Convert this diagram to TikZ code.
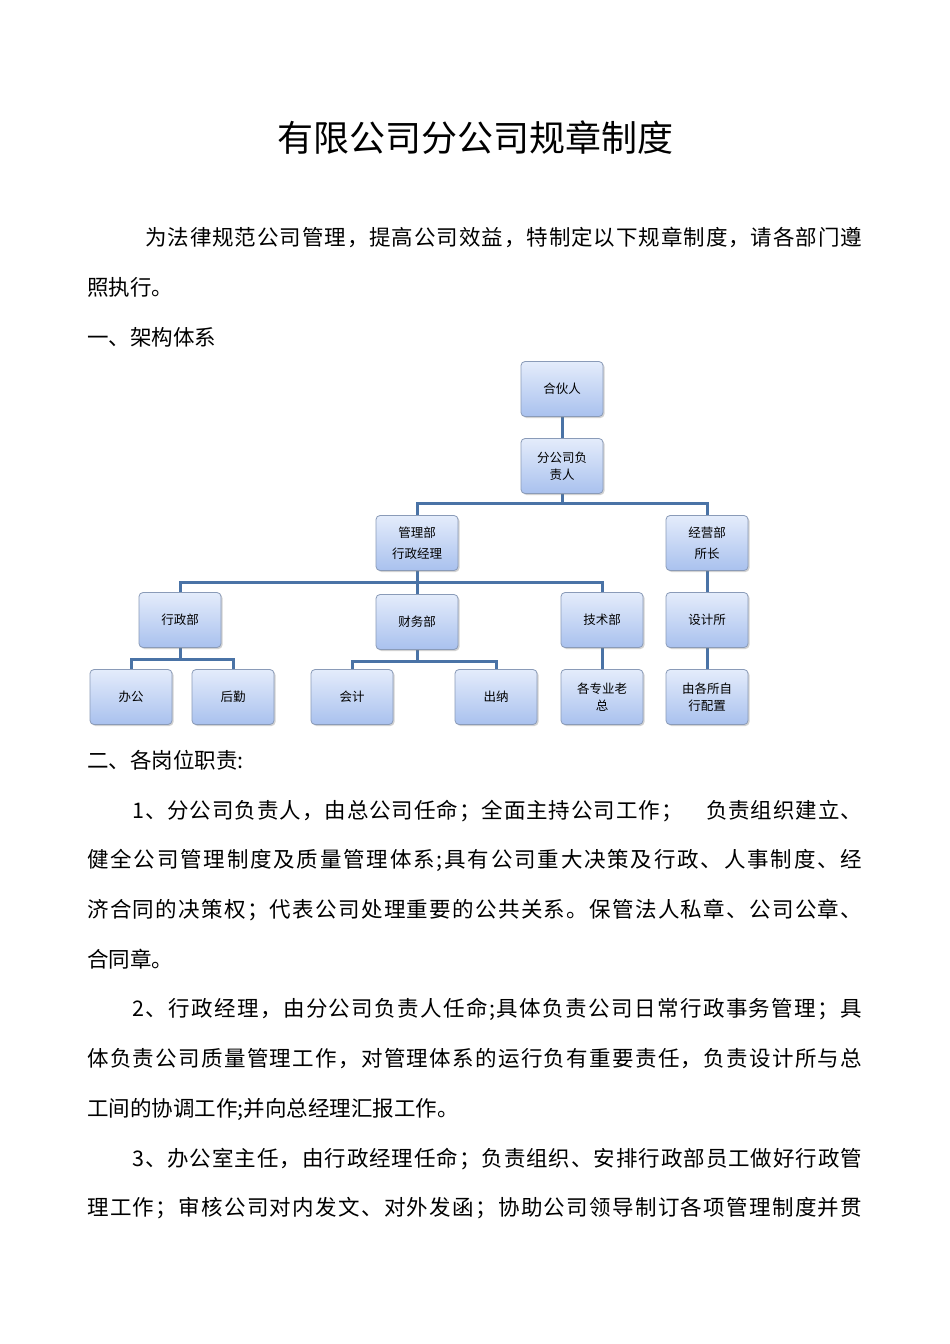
\documentclass[tikz,border=0pt]{standalone}
\usepackage{fontspec}
\setmainfont{Noto Sans CJK SC}
\usetikzlibrary{shadows,backgrounds}
\definecolor{lnc}{HTML}{4A73A6}
\definecolor{bt}{HTML}{E4ECFB}
\definecolor{bb}{HTML}{A9C1EE}
\definecolor{bd}{HTML}{8A9BB8}
\tikzset{
 box/.style={draw=bd,line width=0.8pt,rounded corners=4pt,top color=bt,bottom color=bb,minimum width=82pt,minimum height=55pt,align=center,font=\fontsize{12.5}{17}\selectfont,drop shadow={opacity=0.35,shadow xshift=1.5pt,shadow yshift=-1.5pt},inner sep=2pt},
 conn/.style={lnc,line width=3pt},
 txt/.style={anchor=base west,inner sep=0pt,font=\fontsize{21.5}{21.5}\selectfont},
}
\def\myspr#1{#1\mysprx}
\def\mysprx#1{\ifx#1\relax\else\hskip0pt plus 1fil #1\expandafter\mysprx\fi}
\newcommand{\jl}[2][775pt]{\makebox[#1][s]{\myspr#2\relax}}
\begin{document}
\begin{tikzpicture}[x=1pt,y=-1pt]
\useasboundingbox (0,0) rectangle (950,1344);
\node[inner sep=0pt,font=\fontsize{36}{36}\selectfont] (title) at (475,138) {有限公司分公司规章制度};
\node[txt] (p0a) at (145,245) {\jl[717pt]{为法律规范公司管理，提高公司效益，特制定以下规章制度，请各部门遵}};
\node[txt] (p0b) at (87,295) {照执行。};
\node[txt] (h1) at (87,345) {一、架构体系};
% org chart
\node[box] (hhr) at (562,389) {合伙人};
\node[box] (fzr) at (562,466) {分公司负\\责人};
\node[box] (glb) at (417,543) {管理部\\[4pt]行政经理};
\node[box] (jyb) at (707,543) {经营部\\[4pt]所长};
\node[box] (xzb) at (180,620) {行政部};
\node[box] (cwb) at (417,622) {财务部};
\node[box] (jsb) at (602,620) {技术部};
\node[box] (sjs) at (707,620) {设计所};
\node[box] (bg) at (131,697) {办公};
\node[box] (hq) at (233,697) {后勤};
\node[box] (kj) at (352,697) {会计};
\node[box] (cn) at (496,697) {出纳};
\node[box] (gzy) at (602,697) {各专业老\\总};
\node[box] (ygs) at (707,697) {由各所自\\行配置};
\coordinate (j1) at (562,503);
\coordinate (j2) at (417,582);
\coordinate (j3) at (180,659);
\coordinate (j4) at (417,661);
\begin{scope}[on background layer]
\fill[white] (0,0) rectangle (950,1344);
\draw[conn] (hhr.south) -- (fzr.north);
\draw[conn] (fzr.south) -- (j1) -| (glb.north);
\draw[conn] (j1) -| (jyb.north);
\draw[conn] (glb.south) -- (cwb.north);
\draw[conn] (j2) -| (xzb.north);
\draw[conn] (j2) -| (jsb.north);
\draw[conn] (jyb.south) -- (sjs.north);
\draw[conn] (xzb.south) -- (j3) -| (bg.north);
\draw[conn] (j3) -| (hq.north);
\draw[conn] (cwb.south) -- (j4) -| (kj.north);
\draw[conn] (j4) -| (cn.north);
\draw[conn] (jsb.south) -- (gzy.north);
\draw[conn] (sjs.south) -- (ygs.north);
\end{scope}
\node[txt] (h2) at (87,768) {二、各岗位职责:};
\node[txt] (a1) at (132,818) {\jl[730pt]{1、分公司负责人，由总公司任命；全面主持公司工作；　负责组织建立、}};
\node[txt] (a2) at (87,867) {\jl{健全公司管理制度及质量管理体系;具有公司重大决策及行政、人事制度、经}};
\node[txt] (a3) at (87,917) {\jl{济合同的决策权；代表公司处理重要的公共关系。保管法人私章、公司公章、}};
\node[txt] (a4) at (87,967) {合同章。};
\node[txt] (b1) at (132,1016) {\jl[730pt]{2、行政经理，由分公司负责人任命;具体负责公司日常行政事务管理；具}};
\node[txt] (b2) at (87,1066) {\jl{体负责公司质量管理工作，对管理体系的运行负有重要责任，负责设计所与总}};
\node[txt] (b3) at (87,1116) {工间的协调工作;并向总经理汇报工作。};
\node[txt] (c1) at (132,1166) {\jl[730pt]{3、办公室主任，由行政经理任命；负责组织、安排行政部员工做好行政管}};
\node[txt] (c2) at (87,1215) {\jl{理工作；审核公司对内发文、对外发函；协助公司领导制订各项管理制度并贯}};
\end{tikzpicture}
\end{document}
